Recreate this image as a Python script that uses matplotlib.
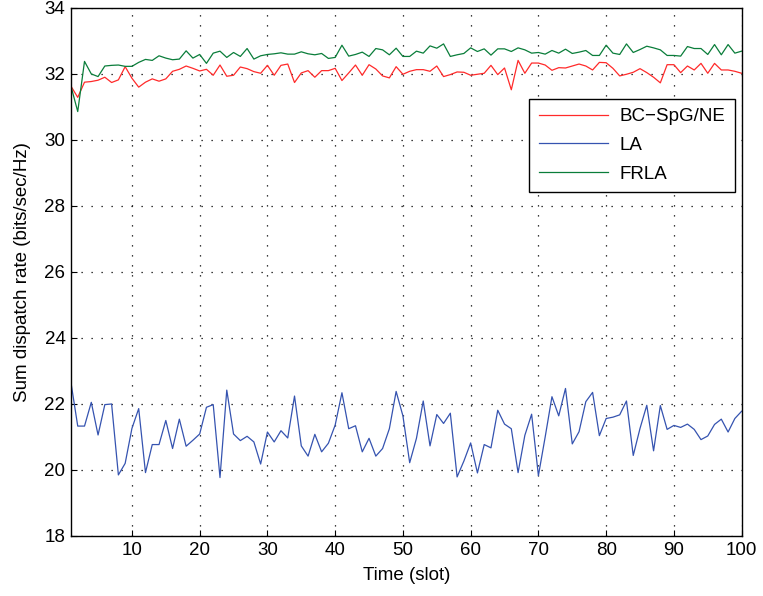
import numpy as np
import matplotlib
matplotlib.use('Agg')
import matplotlib.pyplot as plt

plt.rcParams['font.family'] = ['Liberation Sans', 'DejaVu Sans']

# Time slots 1..100
slots = list(range(1, 101))

# BC-SpG/NE (red)
bc_spg = [
    31.63, 31.29, 31.75, 31.77, 31.81, 31.90, 31.74, 31.82, 32.22, 31.87,
    31.60, 31.75, 31.85, 31.78, 31.85, 32.08, 32.14, 32.24, 32.17, 32.09,
    32.14, 31.96, 32.27, 31.93, 31.96, 32.21, 32.16, 32.07, 32.02, 32.26,
    31.96, 32.26, 32.30, 31.74, 32.03, 32.10, 31.90, 32.10, 32.10, 32.17,
    31.80, 32.03, 32.27, 31.96, 32.28, 32.15, 31.94, 31.88, 32.22, 31.99,
    32.08, 32.13, 32.13, 32.08, 32.24, 31.92, 31.98, 32.06, 32.05, 31.96,
    31.99, 32.02, 32.26, 31.98, 32.18, 31.52, 32.41, 32.02, 32.33, 32.33,
    32.27, 32.11, 32.19, 32.18, 32.24, 32.30, 32.24, 32.12, 32.35, 32.34,
    32.17, 31.94, 31.99, 32.05, 32.16, 32.04, 31.90, 31.73, 32.28, 32.28,
    32.04, 32.24, 32.12, 32.32, 32.02, 32.32, 32.12, 32.12, 32.08, 32.02,
]

# LA (blue)
la = [
    22.65, 21.33, 21.33, 22.05, 21.06, 21.98, 22.00, 19.85, 20.20, 21.26,
    21.86, 19.92, 20.77, 20.77, 21.50, 20.65, 21.54, 20.72, 20.90, 21.09,
    21.90, 21.98, 19.77, 22.42, 21.09, 20.89, 21.02, 20.85, 20.18, 21.15,
    20.85, 21.19, 20.97, 22.24, 20.73, 20.42, 21.08, 20.55, 20.81, 21.36,
    22.34, 21.25, 21.34, 20.55, 20.96, 20.42, 20.65, 21.25, 22.38, 21.64,
    20.22, 20.96, 22.09, 20.73, 21.68, 21.41, 21.72, 19.79, 20.27, 20.82,
    19.91, 20.77, 20.67, 21.81, 21.39, 21.25, 19.92, 21.05, 21.69, 19.83,
    21.00, 22.22, 21.64, 22.47, 20.79, 21.16, 22.07, 22.35, 21.04, 21.56,
    21.60, 21.67, 22.09, 20.44, 21.26, 21.96, 20.58, 21.95, 21.23, 21.35,
    21.29, 21.39, 21.23, 20.92, 21.03, 21.38, 21.54, 21.15, 21.56, 21.78,
]

# FRLA (green)
frla = [
    31.63, 30.86, 32.38, 32.00, 31.92, 32.24, 32.26, 32.27, 32.23, 32.23,
    32.35, 32.44, 32.41, 32.55, 32.48, 32.43, 32.45, 32.70, 32.48, 32.59,
    32.32, 32.63, 32.69, 32.50, 32.65, 32.53, 32.77, 32.45, 32.55, 32.59,
    32.61, 32.64, 32.60, 32.60, 32.67, 32.61, 32.58, 32.62, 32.47, 32.50,
    32.87, 32.54, 32.59, 32.66, 32.53, 32.77, 32.73, 32.58, 32.78, 32.53,
    32.53, 32.69, 32.63, 32.85, 32.78, 32.91, 32.53, 32.58, 32.62, 32.79,
    32.68, 32.76, 32.57, 32.76, 32.76, 32.68, 32.79, 32.73, 32.63, 32.65,
    32.60, 32.71, 32.63, 32.75, 32.62, 32.66, 32.71, 32.56, 32.56, 32.87,
    32.63, 32.59, 32.91, 32.65, 32.74, 32.84, 32.79, 32.73, 32.56, 32.56,
    32.54, 32.83, 32.77, 32.77, 32.59, 32.89, 32.58, 32.89, 32.63, 32.69,
]

fig = plt.figure(figsize=(7.63, 5.96), dpi=100)
ax = fig.add_axes([0.093, 0.1007, 0.879, 0.886])

ax.plot(slots, bc_spg, color='#ff2a2a', linewidth=0.9, label='BC\u2212SpG/NE')
ax.plot(slots, la, color='#3553b0', linewidth=0.9, label='LA')
ax.plot(slots, frla, color='#0a7d3a', linewidth=0.9, label='FRLA')

ax.set_xlim(1, 100)
ax.set_ylim(18, 34)
ax.set_xticks(range(10, 101, 10))
ax.set_yticks(range(18, 35, 2))
ax.grid(True, color='black', linestyle=(0, (1, 7)), linewidth=0.9)
ax.tick_params(direction='in', labelsize=13.5, length=4, pad=4,
               top=False, right=False)
for s in ax.spines.values():
    s.set_linewidth(1.0)

ax.set_xlabel('Time (slot)', fontsize=13.5, labelpad=6)
ax.set_ylabel('Sum dispatch rate (bits/sec/Hz)', fontsize=13.5, labelpad=10)

leg = ax.legend(loc='upper right', bbox_to_anchor=(0.9895, 0.828), fontsize=13.5,
                fancybox=False, framealpha=1, edgecolor='black',
                handlelength=3.7, handletextpad=0.6, borderpad=0.5,
                labelspacing=0.62, borderaxespad=0)
leg.get_frame().set_linewidth(1.0)

fig.savefig('out.png', dpi=100)
